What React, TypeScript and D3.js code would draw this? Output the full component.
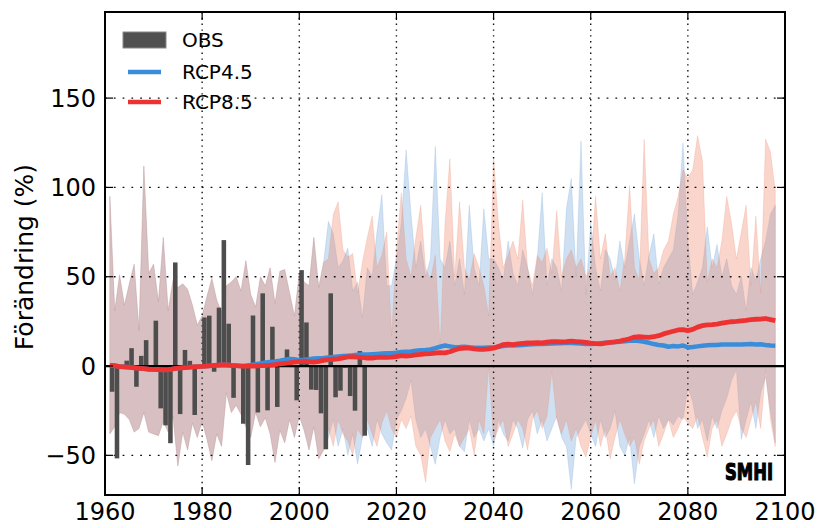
import React from 'react';
import * as d3 from 'd3';

// ---------- data ----------
const obsYears = d3.range(1961, 2014);
const obsValues = [
  -14.4, -51.7, 0.8, 3.0, 10.0, -11.6, 5.7, 14.5, -0.8, 25.4,
  -23.7, -33.2, -43.2, 58.0, -26.9, 9.0, 2.9, -27.4, 0.6, 27.2,
  28.2, -3.2, 32.7, 70.5, 23.7, -17.8, -0.8, -32.3, -55.4, 28.3,
  -26.0, 40.7, -24.8, 22.0, -22.9, 0.7, 9.3, -0.6, -19.2, 53.7,
  24.4, -13.2, -13.4, -26.5, -46.6, 40.7, -17.5, -13.8, -1.0, -16.8,
  -25.0, 8.4, -39.0,
];

const histYears = d3.range(1961, 2006);
const histUpper = [
  95, 31, 51, 34, 46, 57, 20, 112, 52, 57,
  36, 72, 31, 48, 44, 46, 43, 34, 23, 28,
  39, 49, 37, 30, 45, 47, 50, 42, 59, 40,
  33, 50, 45, 55, 35, 53, 54, 41, 28, 52,
  47, 45, 72, 44, 58,
];
const histLower = [
  -38, -34, -26, -27, -30, -37, -35, -26, -37, -38,
  -39, -31, -37, -28, -56, -37, -47, -32, -40, -31,
  -41, -53, -38, -45, -15, -26, -22, -27, -34, -40,
  -26, -34, -29, -38, -54, -36, -43, -30, -40, -28,
  -36, -47, -34, -52, -47,
];

const scenYears = d3.range(2006, 2099);
const rcp45Upper = [
  81, 74, 55, 59, 66,
  42, 47, 27, 55, 50, 75, 96, 45, 45, 60,
  80, 121, 85, 55, 70, 50, 60, 123, 60, 55,
  70, 45, 60, 40, 90, 55, 45, 88, 60, 60,
  55, 48, 70, 52, 45, 65, 55, 40, 60, 97,
  45, 60, 55, 42, 88, 105, 50, 126, 40, 80,
  55, 42, 65, 60, 48, 70, 55, 70, 85, 60,
  45, 62, 74, 46, 55, 60, 65, 85, 125, 70,
  40, 47, 55, 78, 55, 68, 50, 60, 45, 40,
  50, 31, 55, 48, 60, 70, 85, 90,
];
const rcp45Lower = [
  -40, -30, -45, -35, -50,
  -38, -55, -40, -35, -45, -30, -38, -43, -47, -30,
  -25, -18, -8, -30, -40, -35, -45, -55, -40, -30,
  -38, -35, -45, -48, -30, -40, -35, -42, -35, -45,
  -30, -38, -42, -30, -35, -46, -30, -25, -38, -30,
  -42, -35, -28, -40, -45, -69, -40, -35, -30, -38,
  -45, -30, -40, -35, -25, -45, -50, -40, -66, -45,
  -38, -30, -40, -28, -35, -30, -33, -28, -30, -12,
  -20, -35, -30, -42, -28, -35, -25, -18, -8, -2,
  -41, -30, -20, -35, -15, -6, -25, -43,
];
const rcp85Upper = [
  60, 85, 92, 65, 61,
  63, 41, 58, 72, 84, 55, 62, 75, 17, 65,
  97, 60, 50, 72, 90, 55, 48, 62, 11, 80,
  116, 50, 92, 55, 48, 63, 55, 45, 28, 117,
  80, 55, 62, 70, 60, 93, 55, 45, 62, 58,
  66, 52, 87, 50, 60, 65, 55, 60, 50, 55,
  95, 60, 74, 50, 55, 42, 60, 101, 55, 48,
  127, 60, 52, 55, 65, 70, 85, 95, 110, 105,
  110, 129, 115, 47, 60, 55, 70, 95, 80, 60,
  75, 90, 45, 84, 41, 127, 120, 98,
];
const rcp85Lower = [
  -35, -45, -30, -38, -42,
  -50, -35, -40, -30, -38, -45, -32, -25, -35, -40,
  -30, -35, -28, -45, -50, -65, -40, -35, -30, -42,
  -48, -38, -45, -40, -35, -50, -30, -38, 0, -42,
  -35, -30, -45, -38, -30, -35, -47, -30, -25, -35,
  -28, -3, -30, -38, -30, -42, -35, -45, -51, -40,
  -30, -45, -35, -52, -40, -30, -38, -45, -40, -55,
  -42, -35, -30, -45, -38, -30, -40, -35, -28, -32,
  -35, -28, -40, -51, -35, -30, -45, -38, -30, -25,
  -35, -40, -30, -20, -35, -2, -30, -45,
];

const meanYears = d3.range(1961, 2099);
const rcp45Mean = [
  0.4, 0.2, -0.3, -0.5, -0.7, -1.0, -1.3, -1.5, -1.8, -1.9,
  -2.0, -2.2, -2.1, -1.6, -1.2, -1.0, -0.8, -0.5, -0.3, -0.2,
  0.0, 0.2, 0.5, 0.7, 0.7, 0.4, 0.2, 0.0, 0.2, 0.6,
  1.0, 1.5, 2.0, 2.3, 2.6, 3.0, 3.5, 4.0, 3.8, 3.3,
  3.5, 3.8, 4.2, 4.4, 4.5, 4.8, 5.0, 5.3, 5.6, 5.8,
  6.0, 6.3, 6.5, 6.4, 6.6, 6.8, 7.0, 7.2, 7.2, 7.4,
  7.8, 8.0, 8.2, 8.6, 8.9, 9.0, 9.3, 10.0, 10.8, 11.5,
  11.0, 10.5, 10.6, 10.8, 10.5, 10.3, 10.2, 10.3, 10.4, 10.4,
  10.8, 11.2, 11.5, 11.5, 11.7, 11.8, 12.0, 12.2, 12.3, 12.3,
  12.5, 12.6, 12.8, 12.8, 13.0, 12.9, 12.8, 12.6, 12.4, 12.3,
  12.5, 12.8, 13.0, 13.2, 13.4, 13.6, 13.9, 14.2, 14.3, 14.0,
  13.6, 13.0, 12.3, 11.8, 11.5, 10.8, 11.2, 11.0, 11.5, 10.4,
  10.6, 11.0, 11.3, 11.6, 11.8, 11.8, 12.0, 12.0, 12.1, 12.0,
  12.0, 12.2, 12.3, 12.1, 12.2, 11.8, 11.5, 11.4,
];
const rcp85Mean = [
  0.4, 0.2, -0.3, -0.5, -0.7, -1.0, -1.3, -1.5, -1.8, -1.9,
  -2.0, -2.2, -2.1, -1.6, -1.2, -1.0, -0.8, -0.5, -0.3, -0.2,
  0.0, 0.2, 0.5, 0.7, 0.7, 0.4, 0.2, 0.0, 0.0, 0.0,
  0.0, 0.2, 0.3, 0.5, 0.8, 1.2, 1.5, 1.8, 2.2, 2.5,
  2.8, 2.4, 2.2, 2.6, 3.2, 3.6, 3.8, 4.0, 4.6, 5.1,
  5.2, 5.0, 4.8, 4.5, 4.5, 4.8, 5.0, 4.8, 5.0, 5.3,
  5.8, 5.5, 5.8, 6.2, 6.5, 6.8, 7.0, 7.3, 7.5, 7.4,
  8.0, 9.0, 9.8, 10.0, 10.0, 9.6, 9.3, 9.4, 9.6, 10.0,
  11.0, 12.0, 12.3, 12.0, 12.4, 12.7, 12.9, 13.0, 13.1, 13.0,
  13.4, 13.6, 13.7, 13.5, 13.6, 13.9, 13.7, 13.5, 13.2, 12.8,
  12.5, 12.4, 12.8, 13.2, 13.5, 14.0, 14.6, 15.3, 16.2, 16.4,
  16.2, 16.0, 16.4, 17.0, 18.0, 18.8, 19.5, 20.2, 20.4, 19.8,
  20.5, 21.8, 22.6, 23.0, 23.2, 23.5, 24.0, 24.4, 24.8, 25.0,
  25.3, 25.6, 26.0, 26.2, 26.3, 26.6, 26.0, 25.4,
];

const xTicks = [1960, 1980, 2000, 2020, 2040, 2060, 2080, 2100];
const yTicks = [-50, 0, 50, 100, 150];
const legendLabels = ['OBS', 'RCP4.5', 'RCP8.5'];
const yLabel = 'Förändring (%)';

// ---------- layout ----------
const W = 821;
const H = 528;
const L = 105, R = 785, T = 12, B = 495;
const FONT = 'DejaVu Sans, sans-serif';
const BLUE = '#3a8ddb';
const RED = '#ee3232';

export default function App() {
  const x = d3.scaleLinear().domain([1960, 2100]).range([L, R]);
  const y = d3.scaleLinear().domain([-72.2, 198.2]).range([B, T]);

  const band = (upper: number[], lower: number[]) => {
    const yrs = histYears.concat(scenYears);
    const up = histUpper.concat(upper);
    const lo = histLower.concat(lower);
    const data = yrs.map((yr, i) => ({ yr, up: up[i], lo: lo[i] }));
    return d3
      .area<{ yr: number; up: number; lo: number }>()
      .x((d) => x(d.yr))
      .y0((d) => y(d.lo))
      .y1((d) => y(d.up))(data) as string;
  };

  const line = (vals: number[]) =>
    d3
      .line<number>()
      .x((_, i) => x(meanYears[i]))
      .y((d) => y(d))(vals) as string;

  const tick = 8;

  return (
    <svg
      width={W}
      height={H}
      style={{ position: 'absolute', left: 0, top: 0, background: '#fff' }}
      fontFamily={FONT}
    >
      <defs>
        <clipPath id="plot">
          <rect x={L} y={T} width={R - L} height={B - T} />
        </clipPath>
      </defs>
      <rect x={0} y={0} width={W} height={H} fill="#fff" />
      <g clipPath="url(#plot)">
        {/* bands */}
        <path d={band(rcp45Upper, rcp45Lower)} fill="rgb(120,168,218)" fillOpacity={0.36} stroke="rgb(120,168,218)" strokeOpacity={0.3} strokeWidth={0.8} />
        <path d={band(rcp85Upper, rcp85Lower)} fill="rgb(236,128,98)" fillOpacity={0.33} stroke="rgb(236,128,98)" strokeOpacity={0.25} strokeWidth={0.8} />

        {/* grid */}
        {xTicks.slice(1, -1).map((t) => (
          <line key={'gx' + t} x1={x(t)} x2={x(t)} y1={T} y2={B} stroke="#111" strokeWidth={1.4} strokeDasharray="1.4 4.4" />
        ))}
        {yTicks.filter((t) => t !== 0).map((t) => (
          <line key={'gy' + t} x1={L} x2={R} y1={y(t)} y2={y(t)} stroke="#111" strokeWidth={1.4} strokeDasharray="1.8 7" />
        ))}

        {/* observed bars */}
        {obsYears.map((yr, i) => {
          const v = obsValues[i];
          const x0 = x(yr);
          const w = x(yr + 1) - x0 - 0.3;
          return (
            <rect key={'b' + yr} x={x0} width={w} y={y(Math.max(0, v))} height={Math.abs(y(v) - y(0))} fill="#4d4d4d" />
          );
        })}

        {/* zero line */}
        <line x1={L} x2={R} y1={y(0)} y2={y(0)} stroke="#000" strokeWidth={2.2} />

        {/* mean lines */}
        <path d={line(rcp45Mean)} fill="none" stroke={BLUE} strokeWidth={4.5} strokeLinejoin="round" />
        <path d={line(rcp85Mean)} fill="none" stroke={RED} strokeWidth={4.8} strokeLinejoin="round" />
      </g>

      {/* frame */}
      <rect x={L} y={T} width={R - L} height={B - T} fill="none" stroke="#000" strokeWidth={2} />

      {/* ticks */}
      {xTicks.map((t) => (
        <g key={'tx' + t}>
          <line x1={x(t)} x2={x(t)} y1={B} y2={B - tick} stroke="#000" strokeWidth={1.2} />
          <line x1={x(t)} x2={x(t)} y1={T} y2={T + tick} stroke="#000" strokeWidth={1.2} />
          <text x={x(t)} y={520} fontSize={24} textAnchor="middle" fill="#000">
            {t}
          </text>
        </g>
      ))}
      {yTicks.map((t) => (
        <g key={'ty' + t}>
          <line x1={L} x2={L + tick} y1={y(t)} y2={y(t)} stroke="#000" strokeWidth={1.2} />
          <line x1={R} x2={R - tick} y1={y(t)} y2={y(t)} stroke="#000" strokeWidth={1.2} />
          <text x={96} y={y(t)} dy="0.36em" fontSize={24} textAnchor="end" fill="#000">
            {t < 0 ? '\u2212' + Math.abs(t) : t}
          </text>
        </g>
      ))}

      {/* y label */}
      <text transform={`translate(33,257) rotate(-90)`} fontSize={25} textAnchor="middle" fill="#000">
        {yLabel}
      </text>

      {/* legend */}
      <rect x={123} y={32} width={43} height={16} fill="#505050" stroke="#888" strokeWidth={1} />
      <line x1={128} x2={161} y1={72} y2={72} stroke={BLUE} strokeWidth={4.5} />
      <line x1={128} x2={161} y1={102} y2={102} stroke={RED} strokeWidth={4.5} />
      {legendLabels.map((lab, i) => (
        <text key={lab} x={182} y={[40, 72, 102][i]} dy="0.36em" fontSize={20} fill="#000">
          {lab}
        </text>
      ))}

      {/* SMHI logo */}
      <text x={725} y={480} fontSize={23} fontWeight={900} fill="#000" stroke="#000" strokeWidth={1.2} textLength={48} lengthAdjust="spacingAndGlyphs">
        SMHI
      </text>
    </svg>
  );
}
